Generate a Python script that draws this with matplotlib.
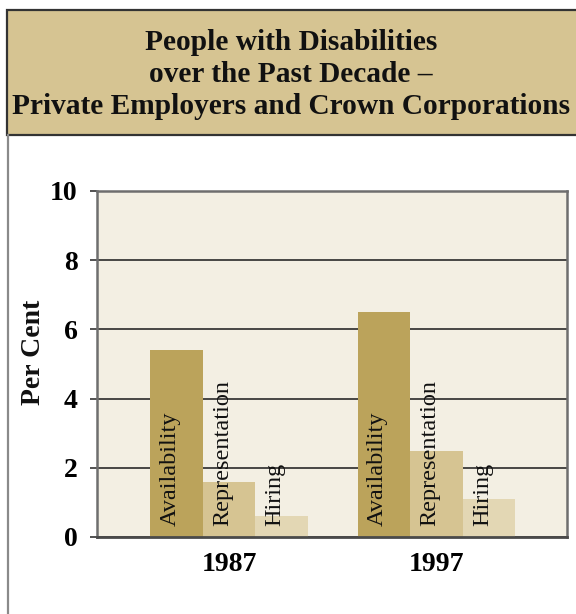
import matplotlib
matplotlib.use("Agg")
import matplotlib.pyplot as plt
from matplotlib.patches import Rectangle
from matplotlib.lines import Line2D
import numpy as np

# Data
years = ["1987", "1997"]
measures = ["Availability", "Representation", "Hiring"]
availability = [5.4, 6.5]
representation = [1.6, 2.5]
hiring = [0.6, 1.1]
yticks = [0, 2, 4, 6, 8, 10]

colors = {"Availability": "#BBA35B", "Representation": "#D6C492", "Hiring": "#E3D7B4"}
serif = ["Liberation Serif", "DejaVu Serif"]

fig = plt.figure(figsize=(5.76, 6.14), dpi=100)
W, H = 576, 614

def fx(px):
    return px / W

def fy(py):
    return 1 - py / H

# Header band
fig.patches.append(Rectangle((fx(7), fy(135)), 1.2, fy(10) - fy(135),
                             transform=fig.transFigure, facecolor="#D6C492",
                             edgecolor="#333333", linewidth=1.6, zorder=0))
# Frame line on the left under the header
fig.lines.append(Line2D([fx(7.5), fx(7.5)], [fy(135), 0], transform=fig.transFigure,
                        color="#8a8a8a", linewidth=1.6))

title_lines = ["People with Disabilities", "over the Past Decade \u2013",
               "Private Employers and Crown Corporations"]
for line, ypx in zip(title_lines, [42, 74, 107]):
    fig.text(fx(291), fy(ypx), line, ha="center", va="center", family=serif,
             fontweight="bold", fontsize=21.2, color="#111111")

ax = fig.add_axes([fx(97), fy(537), fx(567) - fx(97), fy(191) - fy(537)])
ax.set_facecolor("#F3EFE3")

x = np.arange(len(years))
width = 0.253
series = [availability, representation, hiring]
for i, (name, vals) in enumerate(zip(measures, series)):
    pos = x + (i - 1) * width
    ax.bar(pos, vals, width=width, color=colors[name], zorder=3, linewidth=0)
    for p in pos:
        ax.text(p - width / 2 + 0.045, 0.33, name, rotation=90, ha="left", va="bottom",
                family=serif, fontsize=17.5, color="#111111", zorder=4)

ax.set_ylim(0, 10)
ax.set_xlim(-0.636, 1.629)
ax.set_yticks(yticks)
ax.set_yticklabels([str(t) for t in yticks], family=serif, fontweight="bold", fontsize=20)
ax.set_xticks(x)
ax.set_xticklabels(years, family=serif, fontweight="bold", fontsize=20)
ax.tick_params(axis="x", length=0, pad=11)
ax.tick_params(axis="y", length=5, width=1.2, color="#333333", pad=9)
ax.yaxis.grid(True, color="#2a2a2a", linewidth=1.2, zorder=1)
ax.set_axisbelow(True)

for side in ["left", "right", "top"]:
    ax.spines[side].set_color("#6e6e6e")
    ax.spines[side].set_linewidth(1.8)
ax.spines["bottom"].set_color("#4a4a4a")
ax.spines["bottom"].set_linewidth(2)
for s in ax.spines.values():
    s.set_zorder(5)

fig.text(fx(34), fy(352), "Per Cent", rotation=90, ha="center", va="center",
         family=serif, fontweight="bold", fontsize=20, color="#111111")

fig.savefig("out.png", dpi=100)
